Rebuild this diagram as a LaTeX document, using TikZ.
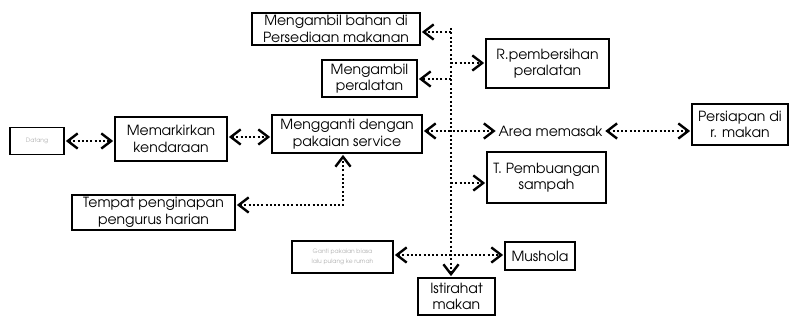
\documentclass[tikz,border=0pt]{standalone}
\usepackage[T1]{fontenc}
\renewcommand{\familydefault}{pag}
\usetikzlibrary{arrows.meta}
\begin{document}
\begin{tikzpicture}[x=0.75pt,y=-0.75pt,
  sz/.style 2 args={minimum width=#1*0.75pt,minimum height=#2*0.75pt},
  box/.style={draw,line width=0.8pt,inner sep=0pt,align=center,
    font=\fontsize{10.5}{12.5}\selectfont},
  faint/.style={box,text=black!30,font=\fontsize{4.5}{8}\selectfont},
  link/.style={line width=1.5pt,dash pattern=on 1.5pt off 1.7pt,
    shorten <=1pt,shorten >=1pt},
  tip/.tip={Straight Barb[length=2.6mm,width=4mm,line width=1.8pt,sep=0pt]},
  one/.style={link,-tip},
  two/.style={link,tip-tip}]
\useasboundingbox (0,0) rectangle (797,323);

% boxes: centre, then width and height in pixel units
\node[faint,sz={54}{27}] (datang) at (37,141) {Datang};
\node[box,sz={112}{44}] (parkir) at (171,139) {Memarkirkan\\kendaraan};
\node[box,sz={150}{38}] (ganti) at (347,134) {Mengganti dengan\\pakaian service};
\node[box,sz={163}{35}] (tempat) at (153.5,212.5) {Tempat penginapan\\pengurus harian};
\node[box,sz={168}{32}] (bahan) at (336,29) {Mengambil bahan di\\Persediaan makanan};
\node[box,sz={95}{37}] (alat) at (369.5,78.5) {Mengambil\\peralatan};
\node[box,sz={123}{49}] (bersih) at (547.5,63.5) {R.pembersihan\\peralatan};
\node[inner sep=1pt,anchor=west,font=\fontsize{10.5}{12.5}\selectfont] (area) at (497,131) {Area memasak};
\node[box,sz={96}{41}] (siap) at (740,124.5) {Persiapan di\\r. makan};
\node[box,sz={119}{51}] (buang) at (546.5,177.5) {T. Pembuangan\\sampah};
\node[faint,sz={101}{32}] (pulang) at (342.5,257) {Ganti pakaian biasa\\lalu pulang ke rumah};
\node[box,sz={70}{28}] (mushola) at (540,256) {Mushola};
\node[box,sz={77}{37}] (makan) at (456.5,296.5) {Istirahat\\makan};

% vertical distribution line and its branch points
\coordinate (top) at (451,28);
\coordinate (b1) at (451,32);
\coordinate (b2) at (451,79);
\coordinate (b3) at (451,63);
\coordinate (b4) at (451,183);
\coordinate (bend) at (343,205);

\draw[one,shorten <=0pt] (top) -- (makan.north -| top);
\draw[one,shorten <=0pt] (b1) -- (bahan.east |- b1);
\draw[one,shorten <=0pt] (b2) -- (alat.east |- b2);
\draw[one,shorten <=0pt] (b3) -- (bersih.west |- b3);
\draw[one,shorten <=0pt] (b4) -- (buang.west |- b4);

% horizontal links
\draw[two] (datang.east) -- (parkir.west |- datang.east);
\draw[two] (parkir.east |- 0,137) -- (ganti.west |- 0,137);
\draw[two] (ganti.east |- area.west) -- (area.west);
\draw[two] (area.east) -- (siap.west |- area.east);
\draw[two] (pulang.east |- 0,255) -- (mushola.west |- 0,255);
\draw[two] (tempat.east |- bend) -- (bend) -- (ganti.south -| bend);
\end{tikzpicture}
\end{document}
